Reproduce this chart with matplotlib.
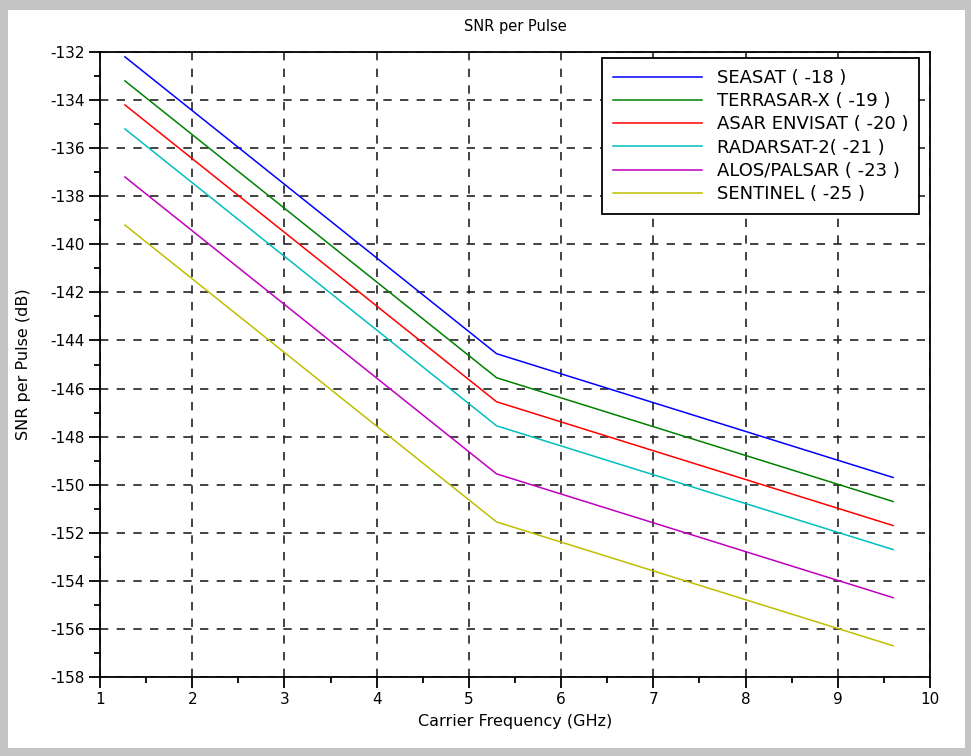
import matplotlib.pyplot as plt
from matplotlib.patches import Rectangle
from matplotlib.ticker import MultipleLocator

plt.rcParams['font.family'] = ['DejaVu Sans']
plt.rcParams['axes.unicode_minus'] = False

# frequences des bandes L, C, X (GHz)
freq = [1.27, 5.3, 9.6]

seasat = [-132.2, -144.55, -149.7]
terrasar = [-133.2, -145.55, -150.7]
asar = [-134.2, -146.55, -151.7]
radarsat = [-135.2, -147.55, -152.7]
alos = [-137.2, -149.55, -154.7]
sentinel = [-139.2, -151.55, -156.7]

labels = ["SEASAT ( -18 )", "TERRASAR-X ( -19 )", "ASAR ENVISAT ( -20 )",
          "RADARSAT-2( -21 )", "ALOS/PALSAR ( -23 )", "SENTINEL ( -25 )"]
colors = ["#0000ff", "#008000", "#ff0000", "#00bfbf", "#bf00bf", "#bfbf00"]

fig = plt.figure(figsize=(9.71, 7.56), dpi=100, facecolor="#c4c4c4")
# cadre blanc de la fenetre
fig.patches.append(Rectangle((8 / 971, 1 - 748 / 756), 957 / 971, 738 / 756,
                             transform=fig.transFigure, facecolor="white",
                             edgecolor="none", zorder=-10))

ax = fig.add_axes([100 / 971, 1 - 677 / 756, 830 / 971, 625 / 756])

for y, lab, c in zip([seasat, terrasar, asar, radarsat, alos, sentinel], labels, colors):
    ax.plot(freq, y, color=c, lw=1.1, label=lab)

ax.set_xlim(1, 10)
ax.set_ylim(-158, -132)
ax.xaxis.set_major_locator(MultipleLocator(1))
ax.xaxis.set_minor_locator(MultipleLocator(0.5))
ax.yaxis.set_major_locator(MultipleLocator(2))
ax.yaxis.set_minor_locator(MultipleLocator(1))
ax.tick_params(which="major", direction="out", length=8, width=1.3, labelsize=11, pad=3)
ax.tick_params(which="minor", direction="out", length=4, width=1.3)
for s in ax.spines.values():
    s.set_linewidth(1.3)

ax.grid(True, which="major", color="#222222", linestyle=(0, (5, 5)), lw=1.2)

ax.set_title("SNR per Pulse", fontsize=10.5, pad=15)
ax.set_xlabel("Carrier Frequency (GHz)", fontsize=11.5, labelpad=5)
ax.set_ylabel("SNR per Pulse (dB)", fontsize=11.5, labelpad=14)

leg = ax.legend(loc="upper right", bbox_to_anchor=(0.991, 0.996), fontsize=13,
                fancybox=False, framealpha=1, edgecolor="black",
                handlelength=4.9, handletextpad=0.83, labelspacing=0.29,
                borderpad=0.6, borderaxespad=0.2)
leg.get_frame().set_linewidth(1.3)

fig.savefig("out.png", dpi=100, facecolor=fig.get_facecolor())
